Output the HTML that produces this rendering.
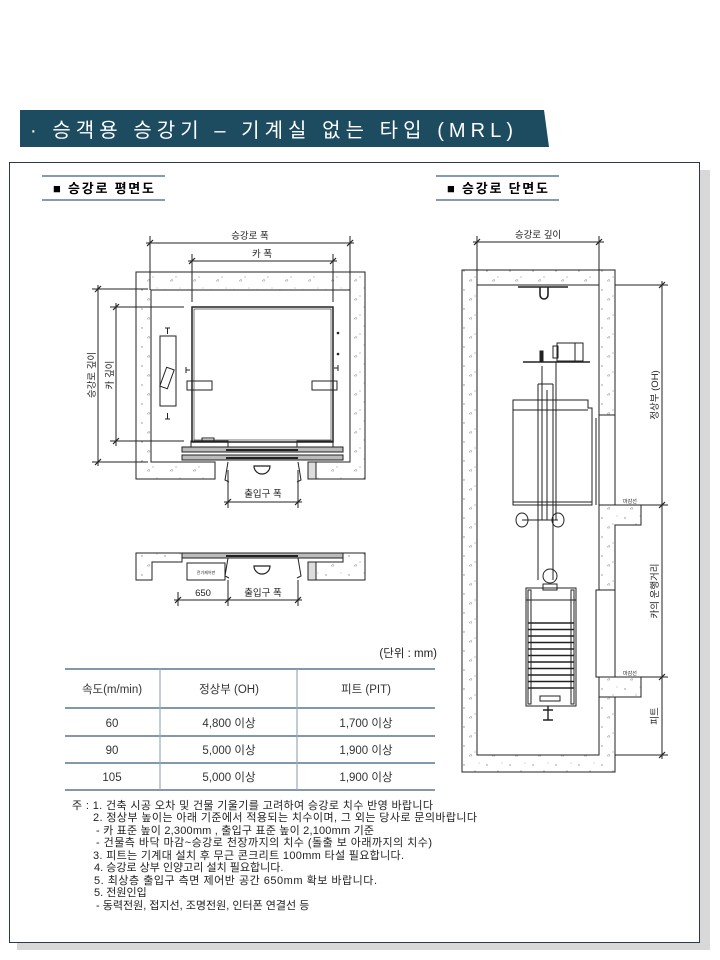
<!DOCTYPE html>
<html><head><meta charset="utf-8"><style>
body{margin:0;width:720px;height:960px;background:#fff;font-family:"Liberation Sans","Noto Sans CJK KR",sans-serif;position:relative;overflow:hidden}
.t{font-family:"Liberation Sans","Noto Sans CJK KR",sans-serif}
</style></head><body>
<svg width="720" height="960" viewBox="0 0 720 960" xmlns="http://www.w3.org/2000/svg" style="position:absolute;left:0;top:0">
<defs>
<pattern id="conc" width="23" height="19" patternUnits="userSpaceOnUse">
<circle cx="4" cy="5" r="0.7" fill="#888"/><circle cx="15" cy="11" r="0.6" fill="#999"/><path d="M9 15 l2 -2 l1 2z" fill="none" stroke="#999" stroke-width="0.5"/><circle cx="19" cy="3" r="0.5" fill="#999"/>
</pattern>
</defs>
<!-- header -->
<polygon points="20,110 544,110 549,147 20,147" fill="#1d4b5f"/>
<text x="30" y="137" fill="#fff" font-size="20" textLength="483" lengthAdjust="spacing" class="t">· 승객용 승강기 – 기계실 없는 타입 (MRL)</text>
<!-- frame -->
<rect x="700" y="170" width="10" height="780" fill="#d8d8d8"/>
<rect x="17" y="942" width="693" height="8" fill="#d8d8d8"/>
<rect x="9.5" y="162.5" width="690" height="780" fill="#fff" stroke="#2a3a4a" stroke-width="1"/>
<!-- section titles -->
<line x1="42" y1="176" x2="165" y2="176" stroke="#3d5f80" stroke-width="1.2"/>
<line x1="42" y1="200" x2="165" y2="200" stroke="#3d5f80" stroke-width="1.2"/>
<text x="53" y="193" font-size="13" font-weight="bold" textLength="101" class="t">■ 승강로 평면도</text>
<line x1="436" y1="176" x2="559" y2="176" stroke="#3d5f80" stroke-width="1.2"/>
<line x1="436" y1="200" x2="559" y2="200" stroke="#3d5f80" stroke-width="1.2"/>
<text x="447" y="193" font-size="13" font-weight="bold" textLength="101" class="t">■ 승강로 단면도</text>

<g stroke="#222" stroke-width="1" fill="none">
<!-- PLAN walls -->
<path d="M136,272 H365 V479 H308 V462 H350 V290 H151 V462 H215 V479 H136 Z" fill="url(#conc)"/>
<rect x="308" y="462" width="8" height="17" fill="#ddd"/>
<!-- car -->
<rect x="192" y="307" width="141" height="135" stroke-width="1.5"/>
<rect x="194" y="309" width="137" height="131" stroke-width="0.6"/>
<rect x="187" y="381" width="25" height="9"/><rect x="312" y="381" width="25" height="9"/>
<rect x="191" y="441" width="37" height="6"/><rect x="297" y="441" width="36" height="6"/>
<rect x="202" y="438" width="12" height="4"/>
<rect x="182" y="447" width="161" height="5" fill="#bbb"/>
<rect x="182" y="455" width="161" height="5" fill="#bbb"/>
<line x1="226" y1="450" x2="298" y2="450" stroke-width="2"/>
<line x1="226" y1="458" x2="298" y2="458" stroke-width="2"/>
<!-- cw -->
<path d="M160,336 H176 V406 H160 Z"/>
<rect x="163" y="368" width="8" height="20" transform="rotate(20 167 378)"/>
<path d="M165,328 h5 M167.5,328 v6 M165,419 h5 M167.5,413 v6 M186,367 v6 M186,370 h4 M338,365 v6 M334,368 h4"/>
<circle cx="338" cy="333" r="0.8" fill="#222"/><circle cx="338" cy="354" r="0.8" fill="#222"/>
<!-- door jamb & sill curves -->
<path d="M228,462 L225,480 l4,2 M298,462 L301,480 l-4,2"/>
<path d="M254,466 a8,8 0 0 0 16,0 Z" stroke-width="1.2"/>
<!-- dims plan -->
<line x1="146" y1="243" x2="354" y2="243"/><line x1="150" y1="236" x2="150" y2="290"/><line x1="350" y1="236" x2="350" y2="290"/>
<line x1="188" y1="261" x2="337" y2="261"/><line x1="192" y1="254" x2="192" y2="302"/><line x1="333" y1="254" x2="333" y2="302"/>
<line x1="98" y1="285" x2="98" y2="466"/><line x1="92" y1="289" x2="148" y2="289"/><line x1="92" y1="462" x2="148" y2="462"/>
<line x1="116" y1="303" x2="116" y2="446"/><line x1="110" y1="307" x2="184" y2="307"/><line x1="110" y1="441" x2="184" y2="441"/>
<line x1="224" y1="502" x2="302" y2="502"/><line x1="228" y1="470" x2="228" y2="508"/><line x1="298" y1="470" x2="298" y2="508"/>
<g stroke-width="1.2"><path d="M147,246 l6,-6 M347,246 l6,-6 M189,264 l6,-6 M330,264 l6,-6 M95,292 l6,-6 M95,465 l6,-6 M113,310 l6,-6 M113,444 l6,-6 M225,505 l6,-6 M295,505 l6,-6"/></g>
<!-- bottom plan -->
<path d="M136,553 H182 V562 H152 V580 H136 Z M365,553 H343 V562 H308 V580 H365 Z" fill="url(#conc)"/>
<rect x="308" y="562" width="8" height="18" fill="#ddd"/>
<rect x="182" y="553" width="161" height="5" fill="#bbb"/>
<line x1="226" y1="556" x2="298" y2="556" stroke-width="2"/>
<rect x="187" y="563" width="38" height="17"/>
<path d="M228,558 L225,576 l4,2 M298,558 L301,576 l-4,2"/>
<path d="M254,566 a8,8 0 0 0 16,0 Z" stroke-width="1.2"/>
<line x1="174" y1="600" x2="302" y2="600"/><line x1="178" y1="592" x2="178" y2="606"/><line x1="228" y1="580" x2="228" y2="606"/><line x1="298" y1="580" x2="298" y2="606"/>
<path d="M175,603 l6,-6 M225,603 l6,-6 M295,603 l6,-6" stroke-width="1.2"/>

<!-- SECTION -->
<path d="M462,270 H615 V415 H599 V285 H477 V755 H599 V697 H615 V772 H462 Z" fill="url(#conc)"/>
<path d="M599,505 H641 V525 H615 V590 H599 Z" fill="url(#conc)"/>
<path d="M599,677 H641 V697 H599 Z" fill="url(#conc)"/>
<rect x="599" y="415" width="16" height="90"/>
<rect x="596" y="590" width="19" height="87"/>
<line x1="596" y1="418" x2="596" y2="505"/>
<!-- hook -->
<path d="M518,287 H568 M540,287 v8 a4,4 0 0 0 8,0 v-8" stroke-width="1.6"/>
<!-- machine -->
<line x1="523" y1="362" x2="590" y2="362" stroke-width="1.6"/>
<rect x="557" y="343" width="26" height="18"/><rect x="553" y="346" width="5" height="12"/><line x1="575" y1="343" x2="575" y2="361"/>
<rect x="540" y="351" width="3" height="10" fill="#222"/>
<!-- car -->
<path d="M513,400 H588 V408 H592 V505 H513 Z"/>
<line x1="513" y1="410" x2="588" y2="410"/><line x1="513" y1="502" x2="592" y2="502"/>
<line x1="538" y1="384" x2="538" y2="580"/><line x1="553" y1="384" x2="553" y2="580"/><line x1="538" y1="384" x2="553" y2="384"/>
<line x1="542" y1="366" x2="542" y2="520"/><line x1="547" y1="390" x2="547" y2="520"/>
<line x1="556" y1="362" x2="556" y2="520"/>
<ellipse cx="522" cy="520" rx="6" ry="7"/><ellipse cx="558" cy="520" rx="6" ry="7"/><line x1="522" y1="520" x2="558" y2="520"/>
<!-- lower cw -->
<circle cx="550" cy="576" r="7"/><rect x="543" y="584" width="14" height="6"/>
<rect x="526" y="588" width="50" height="118"/>
<rect x="528" y="590" width="3" height="114"/><rect x="571" y="590" width="3" height="114"/>
<line x1="526" y1="600" x2="576" y2="600"/>
<g stroke-width="1.5"><path d="M528,623 H574 M528,629.5 H574 M528,636 H574 M528,642.5 H574 M528,649 H574 M528,655.5 H574 M528,662 H574 M528,668.5 H574 M528,675 H574 M528,681.5 H574 M528,688 H574"/></g>
<rect x="540" y="696" width="20" height="5"/>
<path d="M548,706 v14 M543,710 h10 M543,720 h10" stroke-width="1.4"/>
<!-- section dims -->
<line x1="473" y1="242" x2="604" y2="242"/><line x1="477" y1="236" x2="477" y2="285"/><line x1="599" y1="236" x2="599" y2="285"/>
<line x1="662" y1="281" x2="662" y2="759"/>
<line x1="615" y1="285" x2="668" y2="285"/><line x1="641" y1="505" x2="668" y2="505"/><line x1="641" y1="677" x2="668" y2="677"/><line x1="615" y1="755" x2="668" y2="755"/>
<path d="M474,245 l6,-6 M596,245 l6,-6 M659,288 l6,-6 M659,508 l6,-6 M659,680 l6,-6 M659,758 l6,-6" stroke-width="1.2"/>
</g>
<g font-size="9.5" fill="#222" class="t">
<text x="250" y="239" text-anchor="middle">승강로 폭</text>
<text x="262" y="257" text-anchor="middle">카 폭</text>
<text x="263" y="497" text-anchor="middle">출입구 폭</text>
<text x="263" y="596" text-anchor="middle">출입구 폭</text>
<text x="203" y="596" text-anchor="middle">650</text>
<text x="206" y="574" text-anchor="middle" font-size="4">전기제어판</text>
<text transform="translate(95,375) rotate(-90)" text-anchor="middle">승강로 깊이</text>
<text transform="translate(113,375) rotate(-90)" text-anchor="middle">카 깊이</text>
<text x="538" y="238" text-anchor="middle">승강로 깊이</text>
<text transform="translate(658,395) rotate(-90)" text-anchor="middle">정상부 (OH)</text>
<text transform="translate(658,591) rotate(-90)" text-anchor="middle">카의 운행거리</text>
<text transform="translate(658,716) rotate(-90)" text-anchor="middle">피트</text>
<text x="623" y="503" font-size="5">마감선</text>
<text x="623" y="675" font-size="5">마감선</text>
</g>
<!-- table -->
<text x="437" y="657" font-size="11.5" text-anchor="end" fill="#222" class="t">(단위 : mm)</text>
<g stroke="#3a5a7a" stroke-width="1.2">
<line x1="65" y1="669" x2="435" y2="669"/><line x1="65" y1="708" x2="435" y2="708"/><line x1="65" y1="736" x2="435" y2="736"/><line x1="65" y1="763" x2="435" y2="763"/><line x1="65" y1="790" x2="435" y2="790"/>
<line x1="160" y1="669" x2="160" y2="790" stroke="#9ab"/><line x1="297" y1="669" x2="297" y2="790" stroke="#9ab"/>
</g>
<g font-size="11.5" fill="#333" text-anchor="middle" class="t">
<text x="112" y="693">속도(m/min)</text><text x="229" y="693">정상부 (OH)</text><text x="366" y="693">피트 (PIT)</text>
<text x="112" y="727">60</text><text x="229" y="727">4,800 이상</text><text x="366" y="727">1,700 이상</text>
<text x="112" y="754">90</text><text x="229" y="754">5,000 이상</text><text x="366" y="754">1,900 이상</text>
<text x="112" y="781">105</text><text x="229" y="781">5,000 이상</text><text x="366" y="781">1,900 이상</text>
</g>
<g font-size="11" fill="#222" class="t">
<text x="72" y="809" textLength="361">주 : 1. 건축 시공 오차 및 건물 기울기를 고려하여 승강로 치수 반영 바랍니다</text>
<text x="93" y="821" textLength="384">2. 정상부 높이는 아래 기준에서 적용되는 치수이며, 그 외는 당사로 문의바랍니다</text>
<text x="96" y="834" textLength="278">- 카 표준 높이 2,300mm , 출입구 표준 높이 2,100mm 기준</text>
<text x="96" y="846" textLength="336">- 건물측 바닥 마감~승강로 천장까지의 치수 (돌출 보 아래까지의 치수)</text>
<text x="93" y="859" textLength="311">3. 피트는 기계대 설치 후 무근 콘크리트 100mm 타설 필요합니다.</text>
<text x="94" y="871">4. 승강로 상부 인양고리 설치 필요합니다.</text>
<text x="94" y="884" textLength="283">5. 최상층 출입구 측면 제어반 공간 650mm 확보 바랍니다.</text>
<text x="94" y="896">5. 전원인입</text>
<text x="96" y="909">- 동력전원, 접지선, 조명전원, 인터폰 연결선 등</text>
</g>
</svg>
</body></html>
